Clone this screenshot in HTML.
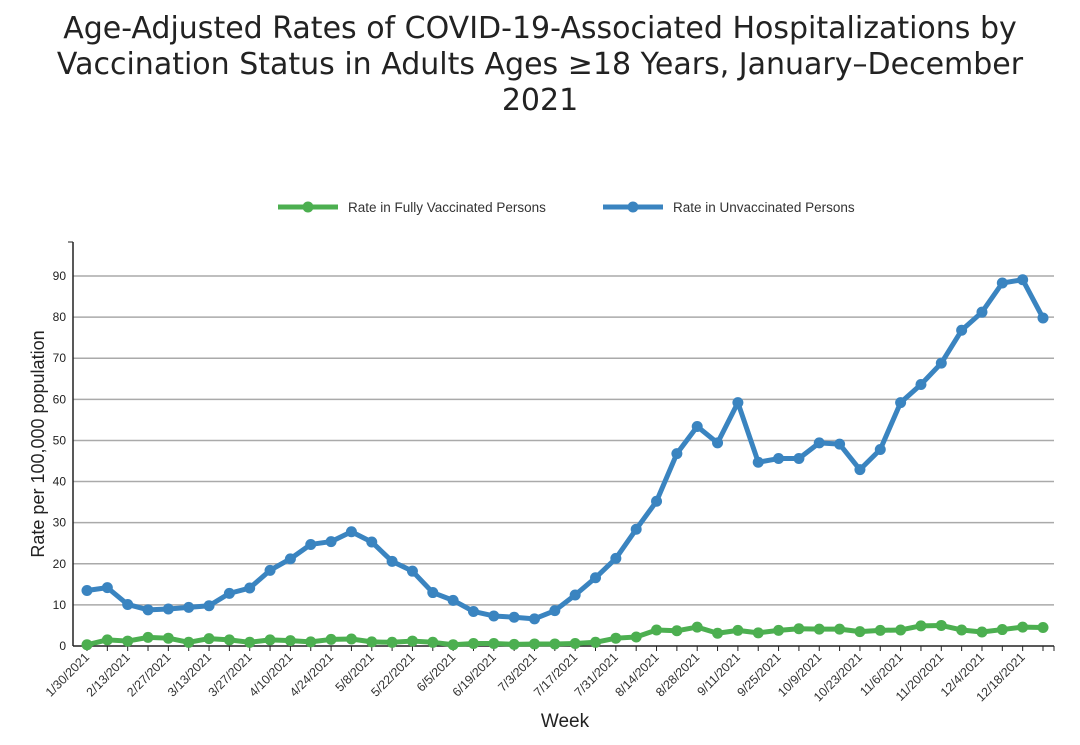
<!DOCTYPE html>
<html><head><meta charset="utf-8"><style>
body{margin:0;background:#fff;font-family:"Liberation Sans",sans-serif;}
#wrap{position:relative;width:1080px;height:745px;overflow:hidden;}
h1{position:absolute;top:11px;left:0;width:1080px;margin:0;text-align:center;font-weight:normal;font-size:30px;line-height:36px;color:#222;font-family:"DejaVu Sans","Liberation Sans",sans-serif;}
</style></head><body>
<div id="wrap">
<h1>Age-Adjusted Rates of COVID-19-Associated Hospitalizations by<br>Vaccination Status in Adults Ages ≥18 Years, January–December<br>2021</h1>
<svg id="c" width="1080" height="745" style="position:absolute;left:0;top:0"></svg>
</div>
<script>
const weeks=["1/30/2021","2/6/2021","2/13/2021","2/20/2021","2/27/2021","3/6/2021","3/13/2021","3/20/2021","3/27/2021","4/3/2021","4/10/2021","4/17/2021","4/24/2021","5/1/2021","5/8/2021","5/15/2021","5/22/2021","5/29/2021","6/5/2021","6/12/2021","6/19/2021","6/26/2021","7/3/2021","7/10/2021","7/17/2021","7/24/2021","7/31/2021","8/7/2021","8/14/2021","8/21/2021","8/28/2021","9/4/2021","9/11/2021","9/18/2021","9/25/2021","10/2/2021","10/9/2021","10/16/2021","10/23/2021","10/30/2021","11/6/2021","11/13/2021","11/20/2021","11/27/2021","12/4/2021","12/11/2021","12/18/2021","12/25/2021"];
const unvaccinated=[13.5,14.2,10.1,8.8,9.0,9.4,9.8,12.8,14.1,18.4,21.2,24.7,25.4,27.8,25.3,20.6,18.2,13.0,11.1,8.4,7.3,7.0,6.6,8.6,12.4,16.6,21.3,28.4,35.2,46.8,53.4,49.4,59.2,44.7,45.6,45.6,49.4,49.1,42.9,47.8,59.2,63.6,68.8,76.8,81.2,88.3,89.1,79.8];
const vaccinated=[0.3,1.5,1.2,2.1,1.9,0.9,1.8,1.5,0.9,1.5,1.3,1.0,1.6,1.7,1.0,0.9,1.2,0.9,0.3,0.6,0.6,0.4,0.5,0.5,0.6,0.9,1.9,2.2,3.9,3.7,4.6,3.1,3.8,3.2,3.8,4.2,4.1,4.1,3.5,3.8,3.9,4.9,5.0,3.9,3.4,4.0,4.6,4.5];
const yTicks=[0,10,20,30,40,50,60,70,80,90];
const NS="http://www.w3.org/2000/svg";
const svg=document.getElementById('c');
const X0=87,X1=1043,Y0=646,YPER=4.111;
const x=i=>X0+i*(X1-X0)/(weeks.length-1);
const y=v=>Y0-v*YPER;
function mk(t,a){const e=document.createElementNS(NS,t);for(const k in a)e.setAttribute(k,a[k]);svg.appendChild(e);return e;}
yTicks.forEach(t=>{
 if(t>0){const g=mk('line',{x1:73,x2:1054,y1:y(t),y2:y(t),stroke:'#aaa','stroke-width':1.5});
 
 }
 const l=mk('text',{x:66,y:y(t)+4,'text-anchor':'end','font-size':12,fill:'#222'});l.textContent=t;
 
 
});
const ax=mk('line',{x1:73,x2:73,y1:242,y2:646,stroke:'#222','stroke-width':1.5});


mk('line',{x1:68,x2:73,y1:242,y2:242,stroke:'#222'});
const bx=mk('line',{x1:73,x2:1054,y1:646,y2:646,stroke:'#222','stroke-width':1.5});


weeks.forEach((w,i)=>{
 mk('line',{x1:x(i),x2:x(i),y1:646,y2:651,stroke:'#222'});
 if(i%2===0){const t=mk('text',{x:x(i)+3,y:658,'text-anchor':'end','font-size':12.5,fill:'#333',transform:`rotate(-45 ${x(i)+3} 658)`});t.textContent=w;
 
 }
});
mk('line',{x1:1054,x2:1054,y1:646,y2:651,stroke:'#222'});
function series(vals,col,name){
 const p=mk('polyline',{points:vals.map((v,i)=>x(i)+','+y(v)).join(' '),fill:'none',stroke:col,'stroke-width':5,'stroke-linejoin':'round'});
 
 
 vals.forEach((v,i)=>{const c=mk('circle',{cx:x(i),cy:y(v),r:5.5,fill:col});
 
 });
}
series(unvaccinated,'#3a84c0','unvaccinated');
series(vaccinated,'#4caf50','vaccinated');
function leg(x0,col,label,name){
 const l=mk('line',{x1:x0,x2:x0+60,y1:207,y2:207,stroke:col,'stroke-width':5});
 
 
 mk('circle',{cx:x0+30,cy:207,r:5.5,fill:col});
 const t=mk('text',{x:x0+70,y:212,'font-size':13.5,fill:'#333'});t.textContent=label;
 
 
}
leg(278,'#4caf50','Rate in Fully Vaccinated Persons','vaccinated');
leg(603,'#3a84c0','Rate in Unvaccinated Persons','unvaccinated');
const yt=mk('text',{x:44,y:444,'text-anchor':'middle','font-size':18,fill:'#222',transform:'rotate(-90 44 444)'});yt.textContent='Rate per 100,000 population';


const xt=mk('text',{x:565,y:727,'text-anchor':'middle','font-size':19,fill:'#222'});xt.textContent='Week';


</script>
</body></html>
